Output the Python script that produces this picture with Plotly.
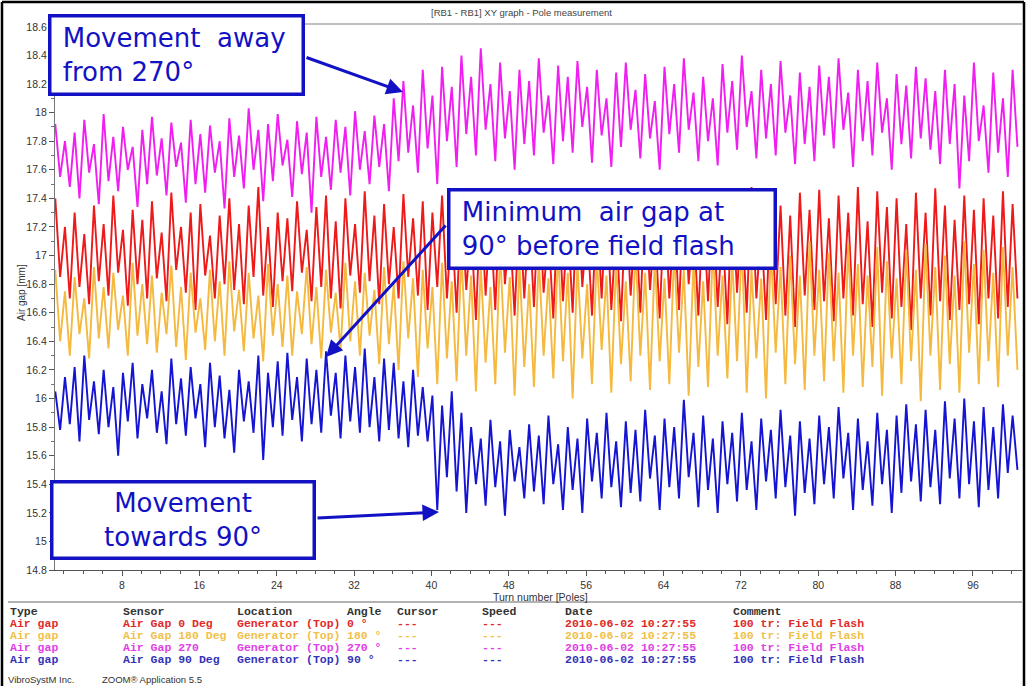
import plotly.graph_objects as go

# ---------------- data (air gap in mm, two samples per pole) ----------------
gap_0 = [
    17.40, 16.85, 17.20, 16.70, 17.30, 16.78, 17.15, 16.66, 17.35, 16.82, 17.22, 16.72, 17.42, 16.88, 17.18, 16.65, 17.32, 16.80, 17.25, 16.70,
    17.38, 16.84, 17.16, 16.68, 17.44, 16.90, 17.20, 16.74, 17.30, 16.62, 17.36, 16.86, 17.14, 16.70, 17.28, 16.80, 17.40, 16.76, 17.22, 16.66,
    17.35, 16.85, 17.48, 16.72, 17.20, 16.64, 17.30, 16.82, 17.26, 16.75, 17.38, 16.88, 17.18, 16.68, 17.34, 16.78, 17.42, 16.70, 17.24, 16.63,
    17.40, 16.86, 17.22, 16.74, 17.45, 16.82, 17.28, 16.66, 17.36, 16.80, 17.20, 16.70, 17.43, 16.85, 17.26, 16.72, 17.38, 16.62, 17.30, 16.78,
    17.42, 16.70, 17.25, 16.60, 17.38, 16.76, 17.20, 16.55, 17.40, 16.72, 17.28, 16.62, 17.45, 16.80, 17.22, 16.58, 17.36, 16.70, 17.30, 16.64,
    17.44, 16.74, 17.18, 16.56, 17.40, 16.68, 17.26, 16.60, 17.46, 16.78, 17.24, 16.58, 17.35, 16.70, 17.42, 16.62, 17.20, 16.54, 17.38, 16.72,
    17.30, 16.60, 17.44, 16.76, 17.22, 16.56, 17.40, 16.70, 17.28, 16.62, 17.46, 16.80, 17.25, 16.58, 17.36, 16.68, 17.42, 16.64, 17.20, 16.52,
    17.45, 16.74, 17.30, 16.60, 17.48, 16.70, 17.22, 16.55, 17.40, 16.66, 17.35, 16.58, 17.28, 16.50, 17.44, 16.72, 17.32, 16.62, 17.46, 16.68,
    17.26, 16.54, 17.42, 16.70, 17.30, 16.58, 17.48, 16.66, 17.24, 16.50, 17.45, 16.74, 17.34, 16.56, 17.40, 16.64, 17.22, 16.48, 17.44, 16.70,
    17.30, 16.58, 17.47, 16.68, 17.35, 16.55, 17.25, 16.62, 17.42, 16.66, 17.32, 16.52, 17.40, 16.70, 17.28, 16.56, 17.45, 16.64, 17.36, 16.70,
]

gap_180 = [
    16.90, 16.40, 16.75, 16.30, 16.85, 16.45, 16.70, 16.28, 16.92, 16.42, 16.78, 16.35, 16.88, 16.48, 16.72, 16.30, 16.95, 16.44, 16.80, 16.38,
    16.86, 16.32, 16.74, 16.45, 16.93, 16.36, 16.78, 16.27, 16.88, 16.46, 16.70, 16.34, 16.90, 16.40, 16.82, 16.30, 16.96, 16.47, 16.76, 16.33,
    16.88, 16.42, 16.72, 16.26, 16.94, 16.44, 16.80, 16.36, 16.86, 16.30, 16.75, 16.45, 16.92, 16.38, 16.78, 16.28, 16.90, 16.46, 16.74, 16.34,
    16.95, 16.40, 16.82, 16.30, 16.88, 16.44, 16.76, 16.24, 16.92, 16.38, 16.80, 16.20, 16.96, 16.42, 16.84, 16.15, 16.90, 16.35, 16.78, 16.10,
    16.95, 16.28, 16.82, 16.12, 17.00, 16.30, 16.86, 16.05, 16.92, 16.25, 16.78, 16.10, 17.02, 16.32, 16.85, 16.02, 16.94, 16.22, 16.80, 16.08,
    16.98, 16.30, 16.84, 16.14, 17.04, 16.26, 16.88, 16.00, 16.95, 16.28, 16.80, 16.10, 17.00, 16.34, 16.86, 16.04, 16.96, 16.24, 16.82, 16.12,
    17.05, 16.30, 16.88, 16.06, 16.98, 16.26, 16.84, 16.10, 17.02, 16.32, 16.90, 16.02, 16.96, 16.22, 16.82, 16.08, 17.06, 16.30, 16.86, 16.14,
    16.98, 16.26, 17.08, 16.04, 16.90, 16.28, 16.84, 16.00, 17.04, 16.32, 16.92, 16.10, 17.00, 16.24, 16.86, 16.06, 17.10, 16.30, 16.90, 16.12,
    17.02, 16.26, 16.88, 16.04, 17.08, 16.30, 16.94, 16.08, 16.86, 16.22, 17.06, 16.02, 16.96, 16.28, 16.84, 16.10, 17.04, 16.26, 16.90, 15.98,
    17.08, 16.30, 16.92, 16.06, 17.00, 16.24, 16.86, 16.04, 17.10, 16.32, 16.94, 16.10, 17.04, 16.26, 16.88, 16.08, 17.06, 16.30, 16.92, 16.20,
]

gap_270 = [
    17.92, 17.55, 17.80, 17.48, 17.86, 17.40, 17.95, 17.58, 17.78, 17.36, 17.99, 17.52, 17.83, 17.45, 17.90, 17.60, 17.76, 17.34, 17.88, 17.50,
    17.97, 17.56, 17.82, 17.42, 17.93, 17.62, 17.79, 17.37, 17.95, 17.50, 17.85, 17.44, 17.91, 17.58, 17.80, 17.33, 17.96, 17.55, 17.84, 17.47,
    18.03, 17.60, 17.88, 17.38, 17.92, 17.52, 17.99, 17.63, 17.81, 17.41, 17.94, 17.57, 17.86, 17.30, 17.97, 17.55, 17.83, 17.46, 17.95, 17.58,
    17.90, 17.42, 18.01, 17.60, 17.87, 17.50, 17.98, 17.62, 17.92, 17.45, 18.10, 17.66, 18.22, 17.72, 18.05, 17.58, 18.30, 17.75, 18.12, 17.50,
    18.32, 17.80, 18.18, 17.62, 18.40, 17.85, 18.25, 17.70, 18.45, 17.88, 18.20, 17.66, 18.35, 17.82, 18.15, 17.60, 18.30, 17.78, 18.22, 17.70,
    18.38, 17.86, 18.12, 17.64, 18.33, 17.80, 18.25, 17.72, 18.36, 17.90, 18.18, 17.65, 18.30, 17.84, 18.10, 17.62, 18.28, 17.76, 18.35, 17.88,
    18.16, 17.68, 18.27, 17.82, 18.08, 17.60, 18.32, 17.85, 18.20, 17.72, 18.38, 17.88, 18.14, 17.66, 18.25, 17.80, 18.10, 17.63, 18.34, 17.86,
    18.22, 17.74, 18.40, 17.90, 18.15, 17.68, 18.30, 17.82, 18.20, 17.70, 18.36, 17.86, 18.12, 17.64, 18.28, 17.78, 18.18, 17.66, 18.33, 17.84,
    18.25, 17.75, 18.38, 17.88, 18.14, 17.62, 18.30, 17.80, 18.22, 17.70, 18.35, 17.86, 18.10, 17.60, 18.27, 17.78, 18.19, 17.68, 18.32, 17.82,
    18.24, 17.74, 18.15, 17.64, 18.30, 17.78, 18.20, 17.47, 18.12, 17.66, 18.35, 17.80, 18.05, 17.58, 18.28, 17.72, 18.10, 17.55, 18.30, 17.76,
]

gap_90 = [
    16.05, 15.78, 16.15, 15.82, 16.22, 15.70, 16.30, 15.85, 16.12, 15.75, 16.20, 15.80, 16.08, 15.60, 16.18, 15.84, 16.25, 15.72, 16.10, 15.86,
    16.20, 15.76, 16.05, 15.68, 16.28, 15.82, 16.14, 15.74, 16.22, 15.86, 16.10, 15.66, 16.25, 15.80, 16.16, 15.72, 16.06, 15.62, 16.20, 15.84,
    16.12, 15.76, 16.30, 15.57, 16.18, 15.80, 16.26, 15.74, 16.32, 15.85, 16.15, 15.70, 16.28, 15.82, 16.20, 15.76, 16.33, 15.88, 16.18, 15.72,
    16.30, 15.84, 16.22, 15.76, 16.35, 15.80, 16.15, 15.70, 16.28, 15.78, 16.25, 15.72, 16.12, 15.66, 16.20, 15.74, 16.08, 15.70, 16.02, 15.22,
    15.95, 15.45, 16.05, 15.35, 15.90, 15.20, 15.80, 15.40, 15.72, 15.25, 15.85, 15.38, 15.70, 15.18, 15.78, 15.42, 15.66, 15.30, 15.82, 15.35,
    15.74, 15.26, 15.88, 15.40, 15.68, 15.22, 15.80, 15.36, 15.72, 15.20, 15.86, 15.42, 15.76, 15.30, 15.90, 15.38, 15.70, 15.24, 15.84, 15.34,
    15.78, 15.28, 15.92, 15.44, 15.74, 15.22, 15.86, 15.38, 15.80, 15.30, 15.99, 15.45, 15.76, 15.24, 15.88, 15.36, 15.72, 15.20, 15.84, 15.40,
    15.76, 15.28, 15.90, 15.36, 15.70, 15.22, 15.86, 15.42, 15.78, 15.30, 15.92, 15.38, 15.74, 15.18, 15.84, 15.34, 15.72, 15.26, 15.88, 15.40,
    15.80, 15.30, 15.94, 15.44, 15.76, 15.22, 15.86, 15.36, 15.70, 15.25, 15.90, 15.40, 15.78, 15.20, 15.88, 15.34, 15.96, 15.42, 15.82, 15.28,
    15.92, 15.38, 15.78, 15.26, 15.98, 15.44, 15.86, 15.30, 16.00, 15.40, 15.84, 15.24, 15.94, 15.36, 15.80, 15.30, 15.96, 15.48, 15.88, 15.50,
]

first_pole = 1.1
poles_per_sample = 0.5

x_ticks = [8, 16, 24, 32, 40, 48, 56, 64, 72, 80, 88, 96]

table_header = ["Type", "Sensor", "Location", "Angle", "Cursor", "Speed", "Date", "Comment"]
table_rows = [
    ["Air gap", "Air Gap 0 Deg", "Generator (Top)", "0 °", "---", "---", "2010-06-02 10:27:55", "100 tr: Field Flash"],
    ["Air gap", "Air Gap 180 Deg", "Generator (Top)", "180 °", "---", "---", "2010-06-02 10:27:55", "100 tr: Field Flash"],
    ["Air gap", "Air Gap 270", "Generator (Top)", "270 °", "---", "---", "2010-06-02 10:27:55", "100 tr: Field Flash"],
    ["Air gap", "Air Gap 90 Deg", "Generator (Top)", "90 °", "---", "---", "2010-06-02 10:27:55", "100 tr: Field Flash"],
]

# ---------------- styling ----------------
W, H = 1026, 686
L, R, T, B = 55, 4, 24, 116
PW, PH = W - L - R, H - T - B

def px(x):
    return (x - L) / PW

def py(y):
    return (H - B - y) / PH

line_colors = ["#ee1a1a", "#f4b93e", "#f01ef0", "#1414d2"]
text_colors = ["#e02a2a", "#efc14a", "#e03ee6", "#3434b8"]
series = [gap_0, gap_180, gap_270, gap_90]
names = [r[1] for r in table_rows]
note_blue = "#1212c4"

fig = go.Figure()
for vals, col, nm in zip(series, line_colors, names):
    xs = [first_pole + poles_per_sample * i for i in range(len(vals))]
    fig.add_trace(go.Scatter(x=xs, y=vals, mode="lines", name=nm,
                             line=dict(color=col, width=1.9), showlegend=False))

tick_font = dict(family="Liberation Sans, Arial", size=10.5, color="#333")
fig.update_xaxes(range=[1.07, 101.07], tickmode="array", tickvals=x_ticks,
                 ticks="outside", ticklen=5, tickcolor="#555", showline=True,
                 linecolor="#555", linewidth=1.2, showgrid=False, zeroline=False,
                 tickfont=tick_font,
                 minor=dict(ticks="outside", ticklen=3, dtick=2, tick0=0, tickcolor="#555"))
fig.update_yaxes(range=[14.8, 18.62], dtick=0.2, tick0=14.8, ticks="outside",
                 ticklen=5, tickcolor="#555", showline=True, linecolor="#777",
                 linewidth=1.2, showgrid=False, zeroline=False, tickfont=tick_font,
                 minor=dict(ticks="outside", ticklen=3, dtick=0.1, tick0=14.8, tickcolor="#777"))

sans = "Liberation Sans, Arial"
annotations = []
# title and axis titles
annotations.append(dict(text="[RB1 - RB1] XY graph - Pole measurement", x=px(521), y=py(12),
                        xref="paper", yref="paper", xanchor="center", yanchor="middle", showarrow=False,
                        font=dict(family=sans, size=9.5, color="#444")))
annotations.append(dict(text="Air gap [mm]", x=px(21), y=py(293), xref="paper", yref="paper",
                        xanchor="center", yanchor="middle", textangle=-90, showarrow=False,
                        font=dict(family=sans, size=10, color="#333")))
annotations.append(dict(text="Turn number [Poles]", x=px(540), y=py(597), xref="paper", yref="paper",
                        xanchor="center", yanchor="middle", showarrow=False,
                        font=dict(family=sans, size=10.5, color="#333")))

# table
col_x = [8, 121, 235, 345, 395, 480, 563, 731]
row_y = [611, 623, 635, 647, 659]
mono = "Liberation Mono, Courier New, monospace"
for cx, txt in zip(col_x, table_header):
    annotations.append(dict(text=txt, x=px(cx), y=py(row_y[0]), xref="paper", yref="paper",
                            xanchor="left", yanchor="middle", showarrow=False,
                            font=dict(family=mono, size=11.5, color="#333", weight="bold")))
for ri, row in enumerate(table_rows):
    for cx, txt in zip(col_x, row):
        annotations.append(dict(text=txt, x=px(cx), y=py(row_y[ri + 1]), xref="paper", yref="paper",
                                xanchor="left", yanchor="middle", showarrow=False,
                                font=dict(family=mono, size=11.5, color=text_colors[ri], weight="bold")))

# footer
annotations.append(dict(text="VibroSystM Inc.", x=px(6), y=py(679), xref="paper", yref="paper",
                        xanchor="left", yanchor="middle", showarrow=False,
                        font=dict(family=sans, size=9.5, color="#333")))
annotations.append(dict(text="ZOOM® Application 5.5", x=px(100), y=py(679), xref="paper", yref="paper",
                        xanchor="left", yanchor="middle", showarrow=False,
                        font=dict(family=sans, size=9.5, color="#333")))

# arrows (tail -> head, in pixels)
arrows = [((305, 57), (403, 92)), ((447, 224), (326, 357)), ((316, 518), (439, 512))]
for (tx, ty), (hx, hy) in arrows:
    annotations.append(dict(text="", x=px(hx), y=py(hy), xref="paper", yref="paper",
                            ax=tx - hx, ay=ty - hy, axref="pixel", ayref="pixel",
                            showarrow=True, arrowhead=2, arrowsize=1.1, arrowwidth=3,
                            arrowcolor=note_blue, standoff=0, startstandoff=0))

# callout boxes: (x0, y0, x1, y1, text, align)
nb = "\u00a0"
boxes = [
    (48, 14, 305, 96, nb + "Movement  away<br>" + nb + "from 270°", "left"),
    (447, 188, 777, 270, nb + "Minimum  air gap at<br>" + nb + "90° before field flash", "left"),
    (50, 480, 316, 560, "Movement<br>towards 90°", "center"),
]
bw, bp = 3.5, 3
for x0, y0, x1, y1, txt, al in boxes:
    annotations.append(dict(text=txt, x=px(x0), y=py(y0), xref="paper", yref="paper",
                            xanchor="left", yanchor="top", align=al, showarrow=False,
                            width=(x1 - x0) - 2 * (bw + bp), height=(y1 - y0) - 2 * (bw + bp),
                            bgcolor="white", bordercolor=note_blue, borderwidth=bw, borderpad=bp,
                            font=dict(family="DejaVu Sans, Verdana", size=26, color=note_blue)))

frame = dict(color="black", width=2.5)
shapes = [
    # outer frame (top, left, right)
    dict(type="line", xref="paper", yref="paper", x0=px(2), x1=px(1024), y0=py(2), y1=py(2), line=frame),
    dict(type="line", xref="paper", yref="paper", x0=px(2), x1=px(2), y0=py(2), y1=py(686), line=frame),
    dict(type="line", xref="paper", yref="paper", x0=px(1024), x1=px(1024), y0=py(2), y1=py(686), line=frame),
    # line under title
    dict(type="line", xref="paper", yref="paper", x0=px(48), x1=px(1022), y0=py(24), y1=py(24),
         line=dict(color="#aaaaaa", width=1.5)),
    # separator above table
    dict(type="line", xref="paper", yref="paper", x0=px(8), x1=px(1022), y0=py(602), y1=py(602),
         line=dict(color="#999999", width=1.5)),
]

fig.update_layout(width=W, height=H, margin=dict(l=L, r=R, t=T, b=B),
                  paper_bgcolor="white", plot_bgcolor="white",
                  annotations=annotations, shapes=shapes, showlegend=False)

fig.write_html("out.html", config={"displayModeBar": False},
               post_script="document.body.style.margin='0px';document.body.style.overflow='hidden';")
